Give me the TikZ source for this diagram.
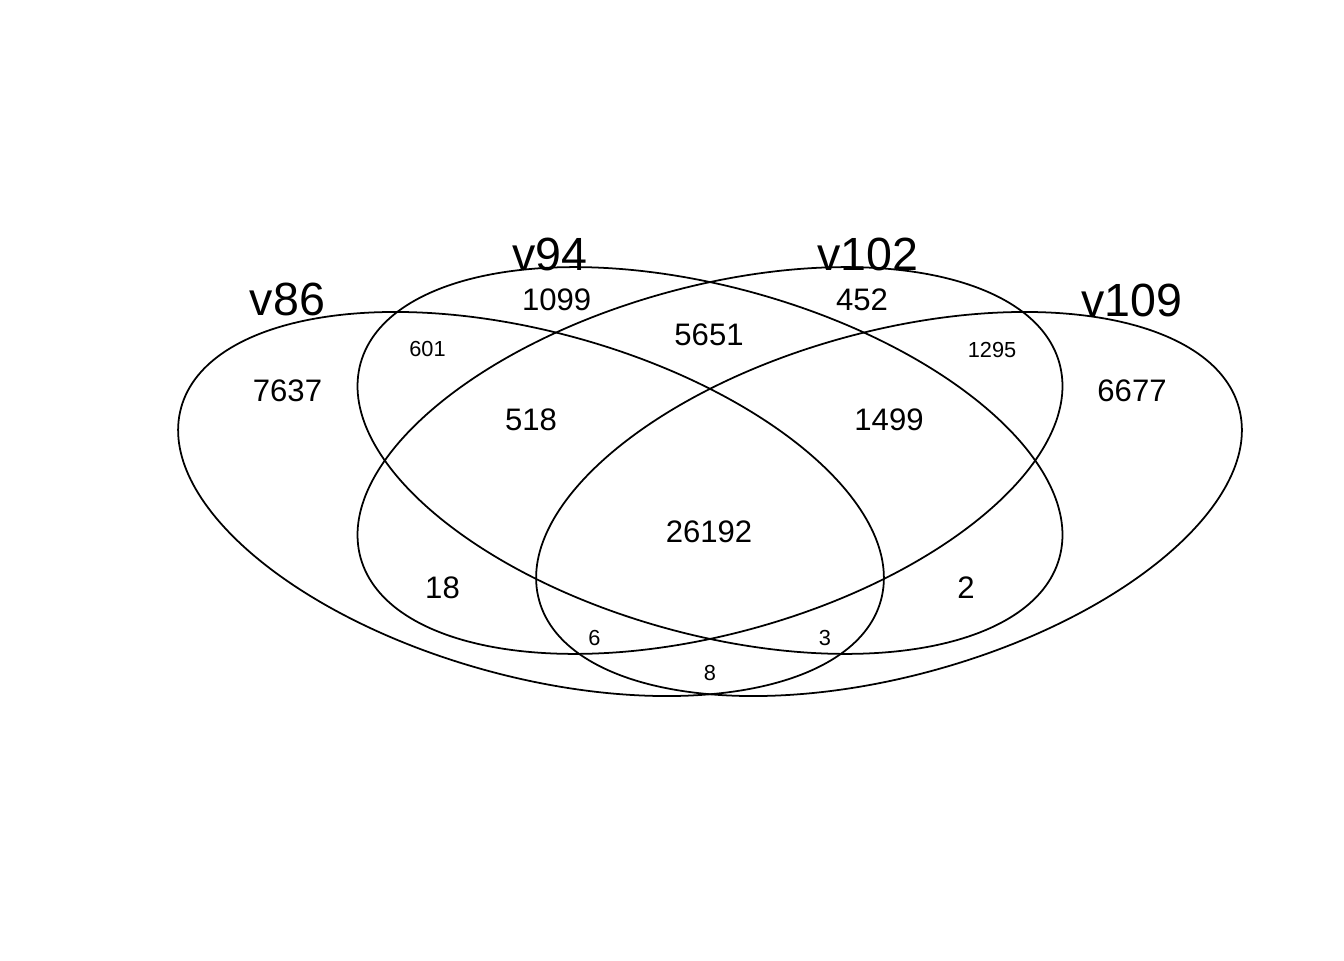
\documentclass[tikz,border=0pt]{standalone}
\usepackage{fontspec}
\setmainfont{Liberation Sans}
\usepackage{tikz}
\tikzstyle{setline} = [line width=1pt, draw=black]
\tikzstyle{setlabel} = [anchor=base, inner sep=0pt, font=\fontsize{26.5}{31}\selectfont]
\tikzstyle{count} = [anchor=base, inner sep=0pt, font=\fontsize{17.7}{21}\selectfont]
\tikzstyle{smallcount} = [anchor=base, inner sep=0pt, font=\fontsize{12.4}{14}\selectfont]

\begin{document}
\begin{tikzpicture}[x=0.02cm, y=-0.02cm]
\useasboundingbox (0,0) rectangle (1344,960);
% the four sets
\draw [setline, rotate around={-15.4:(531,504)}] (531,504) ellipse [x radius=7.26cm, y radius=3.446cm];
\draw [setline, rotate around={-15.6:(710,460.5)}] (710,460.5) ellipse [x radius=7.256cm, y radius=3.468cm];
\draw [setline, rotate around={15.6:(710,460.5)}] (710,460.5) ellipse [x radius=7.256cm, y radius=3.468cm];
\draw [setline, rotate around={15.4:(889,504)}] (889,504) ellipse [x radius=7.26cm, y radius=3.446cm];
% set names
\node (v86) [setlabel] at (287.5,315) {v86};
\node (v94) [setlabel] at (550,270.7) {v94};
\node (v102) [setlabel] at (868,270.7) {v102};
\node (v109) [setlabel] at (1132,316.7) {v109};
% counts
\node (only86) [count] at (287.5,401.7) {7637};
\node (only94) [count] at (556.7,310.7) {1099};
\node (only102) [count] at (862,310.7) {452};
\node (only109) [count] at (1132,401.7) {6677};
\node (n94n102) [count] at (709,345) {5651};
\node (n86n94n102) [count] at (531,430) {518};
\node (n94n102n109) [count] at (889,430) {1499};
\node (all) [count] at (709,542.7) {26192};
\node (n86n102) [count] at (442.5,598.3) {18};
\node (n94n109) [count] at (966,598.3) {2};
\node (n86n94) [smallcount] at (427.5,356.7) {601};
\node (n102n109) [smallcount] at (992,357.3) {1295};
\node (n86n102n109) [smallcount] at (594.5,645) {6};
\node (n86n94n109) [smallcount] at (825,645) {3};
\node (n86n109) [smallcount] at (710,680) {8};
\end{tikzpicture}
\end{document}
